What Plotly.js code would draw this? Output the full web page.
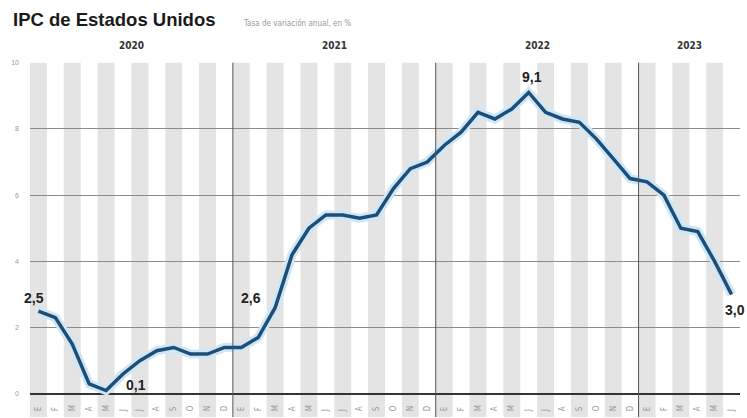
<!DOCTYPE html>
<html>
<head>
<meta charset="utf-8">
<script src="https://cdn.plot.ly/plotly-3.0.1.min.js"></script>
<style>html,body{margin:0;padding:0;background:#fff;}#chart{width:747px;height:418px;}</style>
</head>
<body>
<div id="chart"></div>
<script>
// Data: US CPI, year-on-year change (%), Jan 2020 - Jun 2023
var years = ["2020", "2021", "2022", "2023"];
var monthLetters = ["E", "F", "M", "A", "M", "J", "J", "A", "S", "O", "N", "D"];
var cpi2020 = [2.5, 2.3, 1.5, 0.3, 0.1, 0.6, 1.0, 1.3, 1.4, 1.2, 1.2, 1.4];
var cpi2021 = [1.4, 1.7, 2.6, 4.2, 5.0, 5.4, 5.4, 5.3, 5.4, 6.2, 6.8, 7.0];
var cpi2022 = [7.5, 7.9, 8.5, 8.3, 8.6, 9.1, 8.5, 8.3, 8.2, 7.7, 7.1, 6.5];
var cpi2023 = [6.4, 6.0, 5.0, 4.9, 4.0, 3.0];
var labelPoints = [
  {idx: 0, text: "2,5"},
  {idx: 4, text: "0,1"},
  {idx: 14, text: "2,6"},
  {idx: 29, text: "9,1"},
  {idx: 41, text: "3,0"}
];

var values = cpi2020.concat(cpi2021, cpi2022, cpi2023);
var xs = values.map(function (v, i) { return i; });
var tickText = xs.map(function (i) { return monthLetters[i % 12]; });

var sans = "Liberation Sans, Arial, sans-serif";
var narrow = "Liberation Sans Narrow, DejaVu Sans Condensed, Arial Narrow, sans-serif";
var yMin = -0.7, yMax = 10.02;

var shapes = [];
// alternating month stripes
xs.forEach(function (i) {
  if (i % 2 === 0) {
    shapes.push({type: "rect", xref: "x", yref: "y", x0: i - 0.5, x1: i + 0.5, y0: yMin, y1: 10,
      fillcolor: "#e4e4e4", line: {width: 0}, layer: "below"});
  }
});
// year separators
for (var k = 1; k < years.length; k++) {
  var xb = k * 12 - 0.5;
  shapes.push({type: "line", xref: "x", yref: "y", x0: xb, x1: xb, y0: yMin, y1: 10,
    line: {color: "#555", width: 1}, layer: "above"});
}

var annotations = [];
years.forEach(function (y, k) {
  var start = k * 12;
  var end = Math.min(start + 11, values.length - 1);
  annotations.push({x: (start + end) / 2, y: 1.025, xref: "x", yref: "paper", yanchor: "bottom",
    text: "<b>" + y + "</b>", showarrow: false, font: {family: narrow, size: 10, color: "#333"}});
});
var labelCfg = {
  0: {xanchor: "center", yanchor: "bottom", xshift: -4, yshift: 3},
  4: {xanchor: "left", yanchor: "middle", xshift: 18, yshift: 6},
  14: {xanchor: "right", yanchor: "middle", xshift: -12, yshift: 10},
  29: {xanchor: "center", yanchor: "bottom", xshift: 3, yshift: 5},
  41: {xanchor: "right", yanchor: "top", xshift: 15, yshift: -6}
};
labelPoints.forEach(function (p) {
  var c = labelCfg[p.idx];
  annotations.push({x: p.idx, y: values[p.idx], xref: "x", yref: "y", text: "<b>" + p.text + "</b>",
    showarrow: false, xanchor: c.xanchor, yanchor: c.yanchor, xshift: c.xshift, yshift: c.yshift,
    font: {family: sans, size: 14, color: "#222"}});
});
annotations.push({x: 0, y: 1, xref: "paper", yref: "paper", xanchor: "left", yanchor: "top", xshift: -19, yshift: 55,
  text: "<b>IPC de Estados Unidos</b>", showarrow: false, font: {family: sans, size: 18.5, color: "#1a1a1a"}});
annotations.push({x: 0, y: 1, xref: "paper", yref: "paper", xanchor: "left", yanchor: "top", xshift: 211, yshift: 46,
  text: "Tasa de variación anual, en %", showarrow: false, font: {family: narrow, size: 8, color: "#999"}});

var traces = [
  {x: xs, y: values, type: "scatter", mode: "lines", line: {color: "#cfe6f6", width: 9}, hoverinfo: "skip"},
  {x: xs, y: values, type: "scatter", mode: "lines", line: {color: "#1d4e78", width: 3.5}}
];

var layout = {
  width: 747, height: 418,
  margin: {l: 30, r: 7, t: 62, b: 1},
  paper_bgcolor: "#fff", plot_bgcolor: "#fff",
  showlegend: false,
  xaxis: {range: [-0.5, 41.5], tickvals: xs, ticktext: tickText, tickangle: -90,
    ticklabelposition: "inside", ticks: "", showgrid: false, zeroline: false, showline: false,
    tickfont: {family: narrow, size: 8, color: "#999"}, fixedrange: true},
  yaxis: {range: [yMin, yMax], tickvals: [0, 2, 4, 6, 8, 10], ticktext: ["0", "2", "4", "6", "8", "10"],
    showgrid: true, gridcolor: "#8c8c8c", gridwidth: 1, zeroline: true, zerolinecolor: "#333",
    zerolinewidth: 2.5, ticks: "", ticklabelstandoff: 10, showline: false,
    tickfont: {family: sans, size: 7, color: "#999"}, fixedrange: true},
  shapes: shapes,
  annotations: annotations
};

Plotly.newPlot("chart", traces, layout, {displayModeBar: false, staticPlot: true});
</script>
</body>
</html>
